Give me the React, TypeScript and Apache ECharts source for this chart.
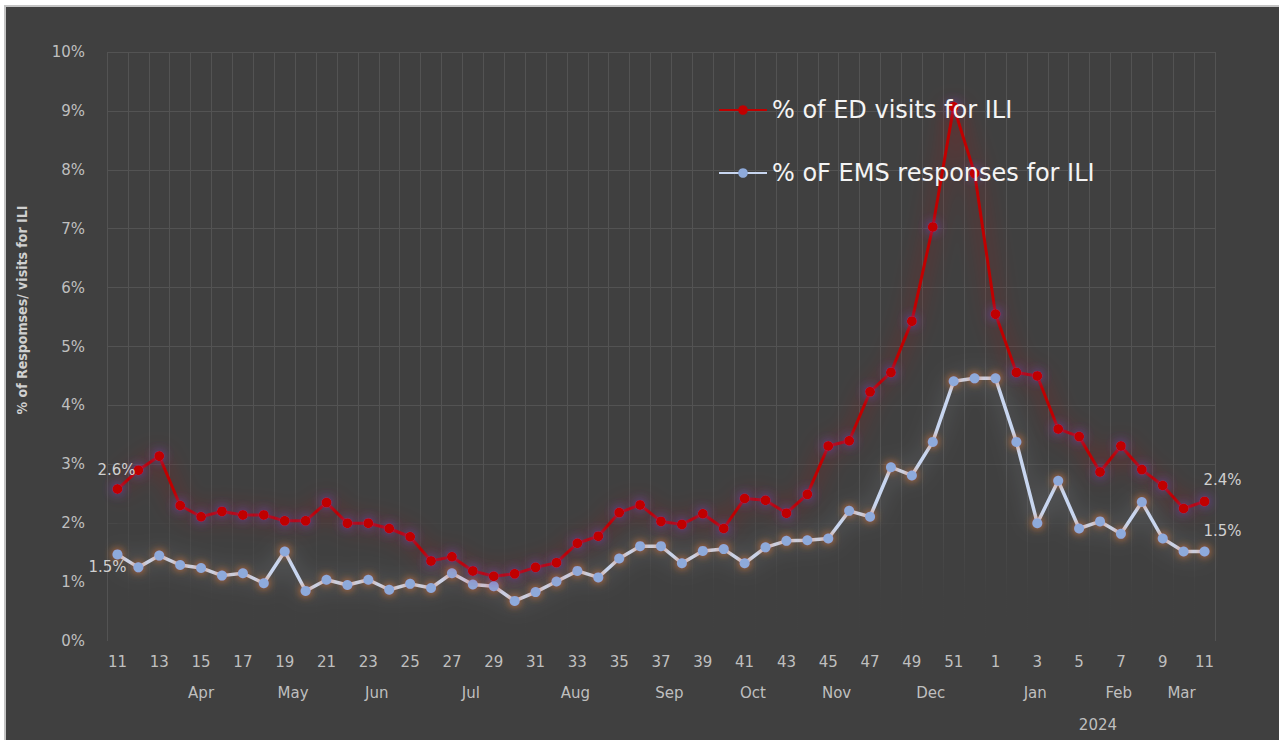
import React, { useEffect, useRef } from "react";
import * as echarts from "echarts";

const weekLabels = [
  "11", "12", "13", "14", "15", "16", "17", "18", "19", "20", "21", "22", "23", "24", "25", "26",
  "27", "28", "29", "30", "31", "32", "33", "34", "35", "36", "37", "38", "39", "40", "41", "42",
  "43", "44", "45", "46", "47", "48", "49", "50", "51", "52",
  "1", "2", "3", "4", "5", "6", "7", "8", "9", "10", "11",
];

const edVisits = [
  2.58, 2.9, 3.14, 2.3, 2.11, 2.2, 2.14, 2.14, 2.04, 2.04, 2.35, 2.0, 2.0, 1.91, 1.77, 1.36,
  1.43, 1.19, 1.1, 1.14, 1.25, 1.33, 1.66, 1.78, 2.18, 2.31, 2.03, 1.98, 2.16, 1.91, 2.42, 2.39,
  2.17, 2.49, 3.31, 3.4, 4.23, 4.56, 5.43, 7.03, 9.07, 7.94,
  5.55, 4.56, 4.5, 3.6, 3.47, 2.87, 3.31, 2.91, 2.64, 2.25, 2.37,
];

const emsResponses = [
  1.47, 1.25, 1.45, 1.29, 1.24, 1.11, 1.15, 0.98, 1.52, 0.85, 1.04, 0.95, 1.04, 0.87, 0.97, 0.9,
  1.15, 0.96, 0.93, 0.68, 0.83, 1.01, 1.19, 1.08, 1.4, 1.61, 1.61, 1.32, 1.53, 1.56, 1.32, 1.59,
  1.7, 1.71, 1.74, 2.21, 2.11, 2.95, 2.81, 3.38, 4.41, 4.46,
  4.46, 3.38, 2.0, 2.72, 1.91, 2.03, 1.82, 2.36, 1.74, 1.52, 1.52,
];

const monthNames = ["Apr", "May", "Jun", "Jul", "Aug", "Sep", "Oct", "Nov", "Dec", "Jan", "Feb", "Mar"];
const monthCenters = [4, 8.4, 12.4, 16.9, 21.9, 26.4, 30.4, 34.4, 38.9, 43.9, 47.9, 50.9];
const yearNames = ["2024"];
const yearCenters = [46.9];

const yTicks = [0, 1, 2, 3, 4, 5, 6, 7, 8, 9, 10];

const seriesNames = ["% of ED visits for ILI", "% oF EMS responses for ILI"];

const TICK_FONT = "'DejaVu Sans', 'Open Sans', sans-serif";
const TICK_COLOR = "#bfbfbf";
const GRID_COLOR = "#535353";
const BG = "#404040";

function withEndLabels(values: number[], firstOffset: number[], lastOffset: number[]) {
  return values.map((v, i) => {
    if (i === 0 || i === values.length - 1) {
      return {
        value: v,
        label: {
          show: true,
          position: "inside",
          offset: i === 0 ? firstOffset : lastOffset,
          formatter: (p: any) => `${Number(p.value).toFixed(1)}%`,
          color: "#d0d0d0",
          fontSize: 15,
          fontFamily: TICK_FONT,
        },
      };
    }
    return v;
  });
}

export default function App() {
  const ref = useRef<HTMLDivElement>(null);

  useEffect(() => {
    if (!ref.current) return;
    const chart = echarts.init(ref.current, undefined, { renderer: "svg" });

    const fadeFill = new echarts.graphic.LinearGradient(0, 0, 0, 1, [
      { offset: 0, color: "rgba(64,64,64,0)" },
      { offset: 0.75, color: "rgba(64,64,64,0.97)" },
      { offset: 1, color: "rgba(64,64,64,1)" },
    ]);

    const option: any = {
      animation: false,
      backgroundColor: BG,
      grid: { left: 107, top: 52, width: 1108, height: 589, containLabel: false },
      legend: {
        data: seriesNames,
        orient: "vertical",
        left: 713,
        top: 93,
        itemGap: 39,
        itemWidth: 48,
        itemHeight: 12,
        textStyle: { color: "#f4f4f4", fontSize: 24, fontFamily: TICK_FONT },
      },
      xAxis: [
        {
          type: "category",
          data: weekLabels,
          boundaryGap: true,
          axisLine: { show: false },
          axisTick: { show: false },
          axisLabel: {
            interval: 1,
            margin: 13,
            color: TICK_COLOR,
            fontSize: 15,
            fontFamily: TICK_FONT,
          },
          splitLine: { show: true, interval: 0, lineStyle: { color: GRID_COLOR, width: 1 } },
        },
        {
          type: "value",
          min: -0.5,
          max: 52.5,
          position: "bottom",
          offset: 31,
          axisLine: { show: false },
          axisTick: { show: false },
          splitLine: { show: false },
          axisLabel: {
            customValues: monthCenters,
            formatter: (v: number) => {
              const i = monthCenters.findIndex((c) => Math.abs(c - v) < 1e-6);
              return i >= 0 ? monthNames[i] : "";
            },
            margin: 13,
            color: TICK_COLOR,
            fontSize: 15,
            fontFamily: TICK_FONT,
          },
        },
        {
          type: "value",
          min: -0.5,
          max: 52.5,
          position: "bottom",
          offset: 63,
          axisLine: { show: false },
          axisTick: { show: false },
          splitLine: { show: false },
          axisLabel: {
            customValues: yearCenters,
            formatter: (v: number) => {
              const i = yearCenters.findIndex((c) => Math.abs(c - v) < 1e-6);
              return i >= 0 ? yearNames[i] : "";
            },
            margin: 13,
            color: TICK_COLOR,
            fontSize: 15,
            fontFamily: TICK_FONT,
          },
        },
      ],
      yAxis: {
        type: "value",
        min: yTicks[0],
        max: yTicks[yTicks.length - 1],
        interval: 1,
        axisLine: { show: false },
        axisTick: { show: false },
        axisLabel: {
          margin: 22,
          formatter: (v: number) => `${v}%`,
          color: TICK_COLOR,
          fontSize: 15,
          fontFamily: TICK_FONT,
        },
        splitLine: {
          show: true,
          lineStyle: {
            color: [BG, BG, "#474747", "#4f4f4f", GRID_COLOR, GRID_COLOR, GRID_COLOR, GRID_COLOR, GRID_COLOR, GRID_COLOR, GRID_COLOR],
            width: 1,
          },
        },
      },
      graphic: [
        { type: "rect", z: 100, silent: true, shape: { x: 0, y: 0, width: 1279, height: 5 }, style: { fill: "#ffffff" } },
        { type: "rect", z: 100, silent: true, shape: { x: 0, y: 0, width: 4, height: 740 }, style: { fill: "#ffffff" } },
        { type: "line", z: 100, silent: true, shape: { x1: 4, y1: 6, x2: 1279, y2: 6 }, style: { stroke: "#c4c4c4", lineWidth: 2 } },
        { type: "line", z: 100, silent: true, shape: { x1: 5, y1: 5, x2: 5, y2: 740 }, style: { stroke: "#c4c4c4", lineWidth: 2 } },
        {
          type: "text",
          z: 100,
          silent: true,
          x: 22,
          y: 310,
          rotation: Math.PI / 2,
          style: {
            text: "% of Respomses/ visits for ILI",
            fill: "#d0d0d0",
            font: "bold 14px 'DejaVu Sans Condensed', 'Liberation Sans', sans-serif",
            align: "center",
            verticalAlign: "middle",
          },
        },
      ],
      series: [
        {
          name: seriesNames[0],
          type: "line",
          xAxisIndex: 0,
          data: withEndLabels(edVisits, [-1, -19], [18, -21]),
          symbol: "circle",
          symbolSize: 10,
          z: 3,
          lineStyle: {
            color: "#C00000",
            width: 3,
            shadowColor: "rgba(215,0,0,0.8)",
            shadowBlur: 22,
          },
          itemStyle: {
            color: "#C00000",
            shadowColor: "rgba(112,70,190,1)",
            shadowBlur: 11,
          },
        },
        {
          name: seriesNames[1],
          type: "line",
          xAxisIndex: 0,
          data: withEndLabels(emsResponses, [-10, 13], [18, -20]),
          symbol: "circle",
          symbolSize: 10,
          z: 2,
          lineStyle: {
            color: "#C8D6F0",
            width: 3.5,
            shadowColor: "rgba(215,225,240,0.45)",
            shadowBlur: 22,
          },
          itemStyle: {
            color: "#8EAADB",
            shadowColor: "rgba(237,125,49,1)",
            shadowBlur: 9,
          },
          markArea: {
            silent: true,
            itemStyle: { color: fadeFill, borderWidth: 0 },
            label: { show: false },
            data: [[{ yAxis: 0, xAxis: "min" }, { yAxis: 2.9, xAxis: "max" }]],
          },
        },
      ],
    };

    chart.setOption(option);
    return () => chart.dispose();
  }, []);

  return (
    <div
      ref={ref}
      style={{ position: "fixed", left: 0, top: 0, width: 1279, height: 740 }}
    />
  );
}
